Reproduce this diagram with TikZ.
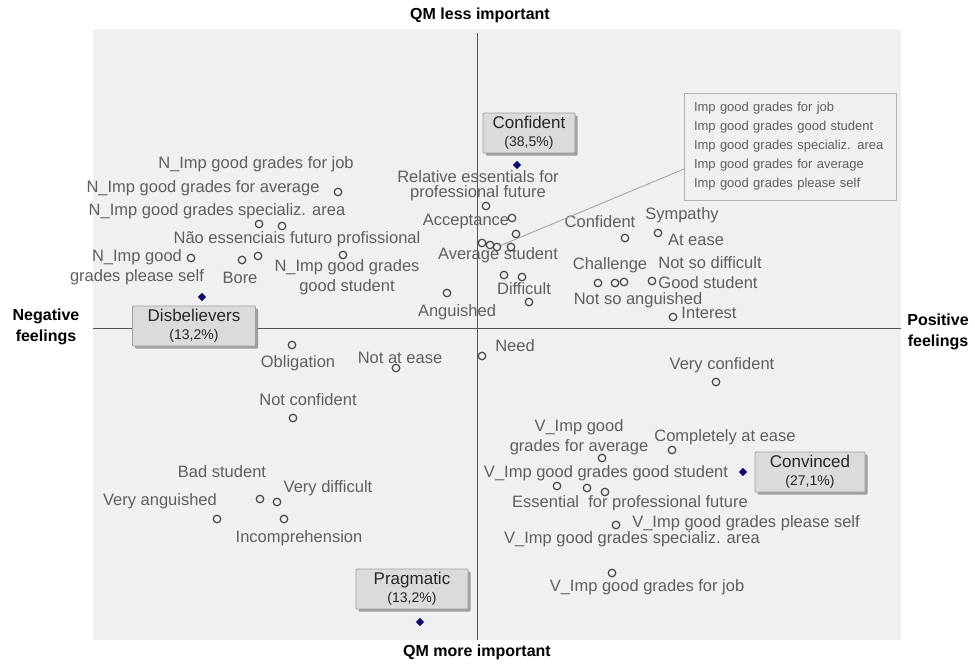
\documentclass[tikz,border=0pt]{standalone}
\usepackage{fontspec}
\setmainfont{Liberation Sans}
\usetikzlibrary{shapes.geometric,shadows}
\definecolor{labelgray}{RGB}{95,95,95}
\definecolor{plotbg}{RGB}{240,240,240}
\definecolor{axisgray}{RGB}{85,85,85}
\definecolor{markgray}{RGB}{70,70,70}
\definecolor{dotblue}{RGB}{10,10,110}
\newcommand{\pctsize}{\fontsize{14}{16}\selectfont}
\tikzset{
  lbl/.style={text=labelgray,inner sep=0pt,align=center,
    font=\fontsize{16.5}{20}\selectfont},
  axtitle/.style={inner sep=0pt,align=center,
    font=\fontsize{16}{21}\selectfont\bfseries},
  catpt/.style={circle,draw=markgray,line width=1.2pt,inner sep=0pt,
    minimum size=7.5pt},
  centroid/.style={diamond,fill=dotblue,inner sep=0pt,minimum size=8.5pt},
  grp/.style={draw=gray!75,fill=gray!28,line width=0.8pt,align=center,
    minimum height=40pt,inner sep=2pt,rounded corners=1pt,
    drop shadow={shadow xshift=2.5pt,shadow yshift=-2.5pt,fill=gray!75,opacity=1},
    text=black!85,font=\fontsize{17}{19}\selectfont}
}
\begin{document}
\begin{tikzpicture}[x=1pt,y=-1pt,line width=1pt]
\path[use as bounding box] (0,0) rectangle (975,664);
\fill[plotbg] (93,29) rectangle (901,640);
% axes
\coordinate (xl) at (93,328); \coordinate (xr) at (901,328);
\coordinate (yt) at (477,33); \coordinate (yb) at (477,640);
\draw[axisgray] (xl) -- (xr) (yt) -- (yb);
\node[axtitle] (qmless) at (480,15) {QM less important};
\node[axtitle] (qmmore) at (477,652) {QM more important};
\node[axtitle] (negf) at (46,327) {Negative\\feelings};
\node[axtitle] (posf) at (938,332) {Positive\\feelings};
% category points
\foreach \x/\y [count=\i] in {338/192,259/224,282/226,191/258,242/260,258/256,
  343/255,447/293,486/206,512/218,516/234,482/243,490/245,497/247,511/247,
  504/275,522/277,529/302,625/238,658/233,598/283,615/283,624/282,652/281,
  673/317,292/345,396/368,293/418,260/499,277/502,217/519,284/519,482/356,
  716/382,602/458,672/450,557/486,587/488,605/492,616/525,612/573}
  \node[catpt] (m\i) at (\x,\y) {};
% upper left
\node[lbl] (lnjob) at (256,164) {N\_Imp good grades for job};
\node[lbl] (lnavg) at (203,188) {N\_Imp good grades for average};
\node[lbl] (lnspec) at (217,211) {N\_Imp good grades specializ. area};
\node[lbl] (lnao) at (297,239) {Não essenciais futuro profissional};
\node[lbl] (lnself) at (137,267) {N\_Imp good\\grades please self};
\node[lbl] (lbore) at (240,278) {Bore};
\node[lbl] (lnstud) at (347,277) {N\_Imp good grades\\good student};
\node[lbl] (lang) at (457,312) {Anguished};
% upper right
\node[lbl,font=\fontsize{16.5}{15}\selectfont] (lrel) at (478,186)
  {Relative essentials for\\professional future};
\node[lbl] (lacc) at (466,222) {Acceptance};
\node[lbl] (lavg) at (498,255) {Average student};
\node[lbl] (ldiff) at (524,289) {Difficult};
\node[lbl] (lconf) at (600,222) {Confident};
\node[lbl] (lsym) at (682,215) {Sympathy};
\node[lbl] (lease) at (696,240) {At ease};
\node[lbl] (lchal) at (610,265) {Challenge};
\node[lbl] (lnsd) at (710,263) {Not so difficult};
\node[lbl] (lgood) at (708,283) {Good student};
\node[lbl] (lnsa) at (638,300) {Not so anguished};
\node[lbl] (lint) at (709,313) {Interest};
% lower left
\node[lbl] (lobl) at (298,363) {Obligation};
\node[lbl] (lnae) at (400,358) {Not at ease};
\node[lbl] (lnconf) at (308,400) {Not confident};
\node[lbl] (lbad) at (222,472) {Bad student};
\node[lbl] (lvdiff) at (328,488) {Very difficult};
\node[lbl] (lvang) at (160,501) {Very anguished};
\node[lbl] (linc) at (299,538) {Incomprehension};
% lower right
\node[lbl] (lneed) at (515,346) {Need};
\node[lbl] (lvconf) at (722,365) {Very confident};
\node[lbl] (lvavg) at (579,437) {V\_Imp good\\grades for average};
\node[lbl] (lcease) at (725,437) {Completely at ease};
\node[lbl] (lvstud) at (606,473) {V\_Imp good grades good student};
\node[lbl] (less) at (630,503) {Essential \ for professional future};
\node[lbl] (lvself) at (746,523) {V\_Imp good grades please self};
\node[lbl] (lvspec) at (632,539) {V\_Imp good grades specializ. area};
\node[lbl] (lvjob) at (647,587) {V\_Imp good grades for job};
% legend of the crowded points
\node[draw=gray!60,text=labelgray,align=left,text width=192pt,
  inner xsep=10pt,minimum height=107pt,
  font=\fontsize{13}{19}\selectfont] (lgd) at (790,146.5)
  {Imp good grades for job\\Imp good grades good student\\
   Imp good grades specializ. area\\Imp good grades for average\\
   Imp good grades please self};
\coordinate (lgdfoot) at (684,169);
\draw[gray!70,line width=0.9pt] (lgdfoot) -- (m14);
% clusters
\node[centroid] (dconf) at (517,165) {};
\node[centroid] (ddis) at (202,297) {};
\node[centroid] (dconv) at (743,472) {};
\node[centroid] (dprag) at (420,622) {};
\node[grp,minimum width=92pt] (gconf) at (529,133) {Confident\\[-1pt]{\pctsize(38,5\%)}};
\node[grp,minimum width=123pt] (gdis) at (194,326) {Disbelievers\\[-1pt]{\pctsize(13,2\%)}};
\node[grp,minimum width=110pt] (gconv) at (810,472) {Convinced\\[-1pt]{\pctsize(27,1\%)}};
\node[grp,minimum width=112pt] (gprag) at (412,589) {Pragmatic\\[-1pt]{\pctsize(13,2\%)}};
\end{tikzpicture}
\end{document}
